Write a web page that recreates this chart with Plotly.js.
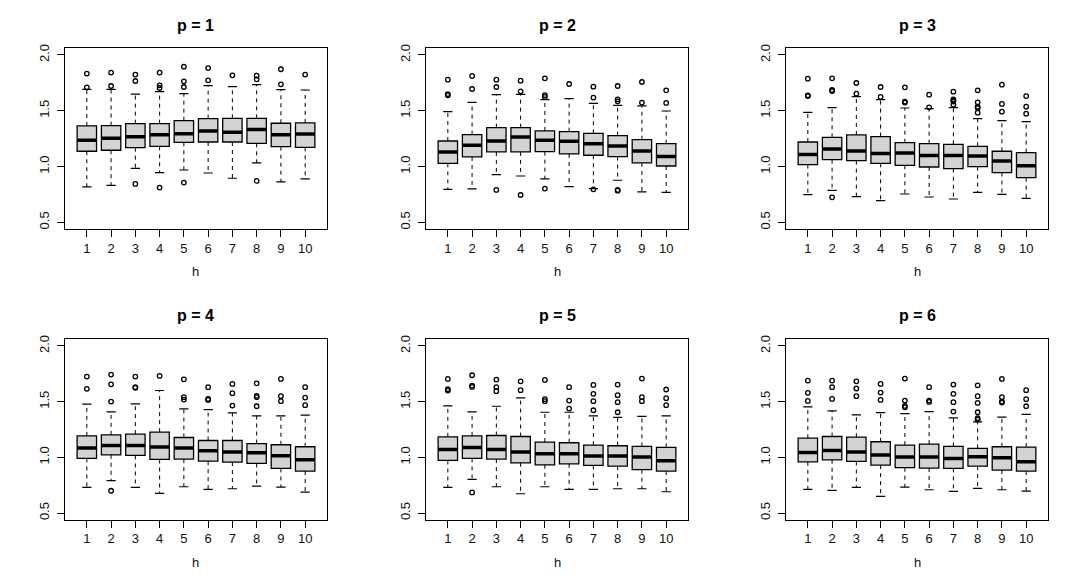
<!DOCTYPE html>
<html>
<head>
<meta charset="utf-8">
<script src="https://cdn.plot.ly/plotly-3.0.1.min.js"></script>
<style>
  html, body { margin: 0; padding: 0; background: #fff; }
  #chart { width: 1080px; height: 581px; }
</style>
</head>
<body>
<div id="chart"></div>
<script>
// data: one row per panel (p = 1..6), one value per horizon h = 1..10
const horizons = [1, 2, 3, 4, 5, 6, 7, 8, 9, 10];
const panelTitles = ['p = 1', 'p = 2', 'p = 3', 'p = 4', 'p = 5', 'p = 6'];

const medians = [
  [1.235, 1.253, 1.268, 1.286, 1.295, 1.319, 1.307, 1.331, 1.286, 1.292],
  [1.131, 1.190, 1.229, 1.265, 1.235, 1.226, 1.205, 1.184, 1.140, 1.089],
  [1.107, 1.157, 1.140, 1.116, 1.122, 1.098, 1.098, 1.095, 1.050, 1.008],
  [1.083, 1.107, 1.107, 1.092, 1.083, 1.059, 1.047, 1.041, 1.014, 0.978],
  [1.071, 1.089, 1.071, 1.047, 1.032, 1.032, 1.011, 1.011, 1.002, 0.969],
  [1.044, 1.062, 1.047, 1.020, 1.002, 1.002, 0.990, 1.005, 0.996, 0.960]
];
const q1 = [
  [1.137, 1.146, 1.169, 1.181, 1.217, 1.220, 1.220, 1.208, 1.178, 1.172],
  [1.029, 1.086, 1.131, 1.131, 1.134, 1.113, 1.101, 1.089, 1.032, 1.005],
  [1.017, 1.062, 1.053, 1.029, 1.011, 0.996, 0.981, 0.999, 0.946, 0.900],
  [0.990, 1.023, 1.017, 0.981, 0.984, 0.966, 0.957, 0.945, 0.901, 0.877],
  [0.972, 0.990, 0.984, 0.951, 0.933, 0.942, 0.927, 0.921, 0.889, 0.877],
  [0.960, 0.978, 0.963, 0.930, 0.907, 0.904, 0.901, 0.921, 0.886, 0.877]
];
const q3 = [
  [1.364, 1.367, 1.385, 1.385, 1.411, 1.429, 1.432, 1.432, 1.388, 1.391],
  [1.229, 1.286, 1.349, 1.349, 1.319, 1.313, 1.298, 1.277, 1.241, 1.205],
  [1.220, 1.262, 1.283, 1.268, 1.214, 1.205, 1.199, 1.181, 1.137, 1.125],
  [1.193, 1.202, 1.208, 1.226, 1.178, 1.151, 1.151, 1.124, 1.113, 1.095],
  [1.184, 1.193, 1.196, 1.187, 1.137, 1.131, 1.110, 1.104, 1.098, 1.089],
  [1.172, 1.187, 1.181, 1.140, 1.110, 1.119, 1.098, 1.080, 1.095, 1.092]
];
const whiskerLow = [
  [0.817, 0.832, 0.984, 0.945, 0.969, 0.942, 0.895, 1.032, 0.862, 0.889],
  [0.796, 0.799, 0.927, 0.915, 0.889, 0.820, 0.802, 0.877, 0.772, 0.769],
  [0.748, 0.787, 0.730, 0.694, 0.754, 0.727, 0.709, 0.769, 0.751, 0.715],
  [0.730, 0.790, 0.730, 0.676, 0.736, 0.712, 0.718, 0.742, 0.733, 0.688],
  [0.730, 0.802, 0.736, 0.673, 0.736, 0.712, 0.712, 0.718, 0.718, 0.691],
  [0.712, 0.703, 0.730, 0.650, 0.733, 0.709, 0.694, 0.721, 0.709, 0.697]
];
const whiskerHigh = [
  [1.692, 1.692, 1.650, 1.671, 1.653, 1.725, 1.716, 1.734, 1.689, 1.686],
  [1.492, 1.576, 1.644, 1.647, 1.600, 1.609, 1.567, 1.549, 1.543, 1.498],
  [1.486, 1.528, 1.627, 1.600, 1.525, 1.519, 1.528, 1.429, 1.411, 1.402],
  [1.477, 1.408, 1.480, 1.600, 1.435, 1.429, 1.399, 1.373, 1.373, 1.379],
  [1.462, 1.408, 1.459, 1.534, 1.405, 1.405, 1.373, 1.358, 1.367, 1.373],
  [1.453, 1.417, 1.382, 1.402, 1.393, 1.411, 1.355, 1.319, 1.361, 1.385]
];
const outliers = [
  [[1.833, 1.710], [1.842, 1.722], [1.824, 1.767, 0.844], [1.842, 1.728, 1.704, 0.811],
   [1.895, 1.764, 1.713, 0.856], [1.883, 1.773], [1.818], [1.815, 1.782, 0.871],
   [1.872, 1.737], [1.824]],
  [[1.779, 1.650, 1.638], [1.812, 1.695], [1.779, 1.713, 0.790], [1.770, 1.674, 0.745],
   [1.791, 1.641, 1.624, 0.802], [1.740], [1.716, 1.618, 0.796], [1.722, 1.603, 1.585, 0.790, 0.784],
   [1.758, 1.573], [1.683, 1.570]],
  [[1.788, 1.638, 1.632], [1.791, 1.686, 1.677, 0.724], [1.749, 1.653], [1.713, 1.624],
   [1.710, 1.582, 1.573], [1.644, 1.531], [1.671, 1.603, 1.591, 1.582, 1.555],
   [1.683, 1.576, 1.537, 1.525, 1.483], [1.734, 1.561, 1.492], [1.632, 1.537, 1.474]],
  [[1.725, 1.615], [1.743, 1.656, 1.501, 0.700], [1.725, 1.630, 1.624], [1.731],
   [1.701, 1.540, 1.519], [1.630, 1.525, 1.516], [1.659, 1.576, 1.465],
   [1.665, 1.552, 1.540, 1.459], [1.704, 1.549, 1.504], [1.630, 1.537, 1.468]],
  [[1.704, 1.612, 1.600], [1.737, 1.644, 1.632, 0.685], [1.698, 1.630, 1.594], [1.683, 1.603],
   [1.695, 1.522, 1.504], [1.630, 1.510, 1.438], [1.650, 1.570, 1.504, 1.423],
   [1.653, 1.558, 1.495, 1.405], [1.707, 1.540, 1.504], [1.609, 1.531, 1.468]],
  [[1.689, 1.579, 1.507], [1.689, 1.630, 1.525], [1.683, 1.618, 1.549], [1.659, 1.582, 1.516],
   [1.707, 1.510, 1.462, 1.450], [1.630, 1.510, 1.498], [1.653, 1.570, 1.495, 1.411],
   [1.647, 1.549, 1.489, 1.405, 1.352, 1.340], [1.704, 1.540, 1.501, 1.492], [1.603, 1.522, 1.459]]
];

// layout helpers
const W = 1080, H = 581;
const colPx = [[65, 327], [426, 688], [786, 1048]];
const rowPx = [[48.3, 229], [339.3, 519.7]];
const titleY = [25, 315];
const hLabelY = [271, 562];
const boxHalf = 0.4, stapleHalf = 0.19;
const FONT = 'Liberation Sans, Arial, Helvetica, sans-serif';

const traces = [];
const layout = {
  width: W, height: H,
  margin: {l: 0, r: 0, t: 0, b: 0},
  paper_bgcolor: '#ffffff',
  plot_bgcolor: '#ffffff',
  showlegend: false,
  hovermode: false,
  font: {family: FONT, size: 13, color: '#000'},
  annotations: []
};

panelTitles.forEach(function(title, k) {
  const row = Math.floor(k / 3), col = k % 3;
  const n = k + 1;
  const xa = 'x' + (n === 1 ? '' : n), ya = 'y' + (n === 1 ? '' : n);
  const xd = [colPx[col][0] / W, colPx[col][1] / W];
  const yd = [1 - rowPx[row][1] / H, 1 - rowPx[row][0] / H];

  layout['xaxis' + (n === 1 ? '' : n)] = {
    domain: xd, anchor: ya, range: [0.1, 10.9],
    tickvals: horizons, ticktext: horizons.map(String),
    ticks: 'outside', ticklen: 7, tickwidth: 1, tickcolor: '#000',
    showline: true, mirror: true, linecolor: '#000', linewidth: 1,
    showgrid: false, zeroline: false, fixedrange: true,
    tickfont: {size: 13, family: FONT, color: '#111'}
  };
  layout['yaxis' + (n === 1 ? '' : n)] = {
    domain: yd, anchor: xa, range: [0.44, 2.06],
    tickvals: [0.5, 1.0, 1.5, 2.0], ticktext: ['0.5', '1.0', '1.5', '2.0'],
    tickangle: -90, ticklabelstandoff: 3,
    ticks: 'outside', ticklen: 7, tickwidth: 1, tickcolor: '#000',
    showline: true, mirror: true, linecolor: '#000', linewidth: 1,
    showgrid: false, zeroline: false, fixedrange: true,
    tickfont: {size: 13, family: FONT, color: '#111'}
  };

  // boxes (whiskers drawn separately, dashed as in R)
  traces.push({
    type: 'box', xaxis: xa, yaxis: ya,
    x: horizons, q1: q1[k], median: medians[k], q3: q3[k],
    lowerfence: q1[k], upperfence: q3[k],
    width: 2 * boxHalf, boxpoints: false,
    fillcolor: '#d3d3d3', line: {color: '#000', width: 1.3}
  });

  // thick median bars, dashed whiskers, staples and outliers
  const mx = [], my = [];
  const wx = [], wy = [];
  const sx = [], sy = [];
  const ox = [], oy = [];
  horizons.forEach(function(h, i) {
    mx.push(h - boxHalf, h + boxHalf, null);
    my.push(medians[k][i], medians[k][i], null);
    wx.push(h, h, null, h, h, null);
    wy.push(q3[k][i], whiskerHigh[k][i], null, q1[k][i], whiskerLow[k][i], null);
    sx.push(h - stapleHalf, h + stapleHalf, null, h - stapleHalf, h + stapleHalf, null);
    sy.push(whiskerHigh[k][i], whiskerHigh[k][i], null, whiskerLow[k][i], whiskerLow[k][i], null);
    outliers[k][i].forEach(function(v) { ox.push(h); oy.push(v); });
  });
  traces.push({type: 'scatter', mode: 'lines', xaxis: xa, yaxis: ya, x: wx, y: wy,
    line: {color: '#000', width: 1, dash: '4px,4px'}, connectgaps: false});
  traces.push({type: 'scatter', mode: 'lines', xaxis: xa, yaxis: ya, x: sx, y: sy,
    line: {color: '#000', width: 1.2}, connectgaps: false});
  traces.push({type: 'scatter', mode: 'lines', xaxis: xa, yaxis: ya, x: mx, y: my,
    line: {color: '#000', width: 3.5}, connectgaps: false});
  traces.push({type: 'scatter', mode: 'markers', xaxis: xa, yaxis: ya, x: ox, y: oy,
    marker: {symbol: 'circle-open', size: 4.5, color: '#000', line: {width: 1.3, color: '#000'}}});

  const cx = (xd[0] + xd[1]) / 2;
  layout.annotations.push({
    text: '<b>' + title + '</b>', xref: 'paper', yref: 'paper',
    x: cx, y: 1 - titleY[row] / H, xanchor: 'center', yanchor: 'middle',
    showarrow: false, font: {size: 16, family: FONT, color: '#000'}
  });
  layout.annotations.push({
    text: 'h', xref: 'paper', yref: 'paper',
    x: cx, y: 1 - hLabelY[row] / H, xanchor: 'center', yanchor: 'middle',
    showarrow: false, font: {size: 13, family: FONT, color: '#111'}
  });
});

Plotly.newPlot('chart', traces, layout, {staticPlot: true, displayModeBar: false});
</script>
</body>
</html>
